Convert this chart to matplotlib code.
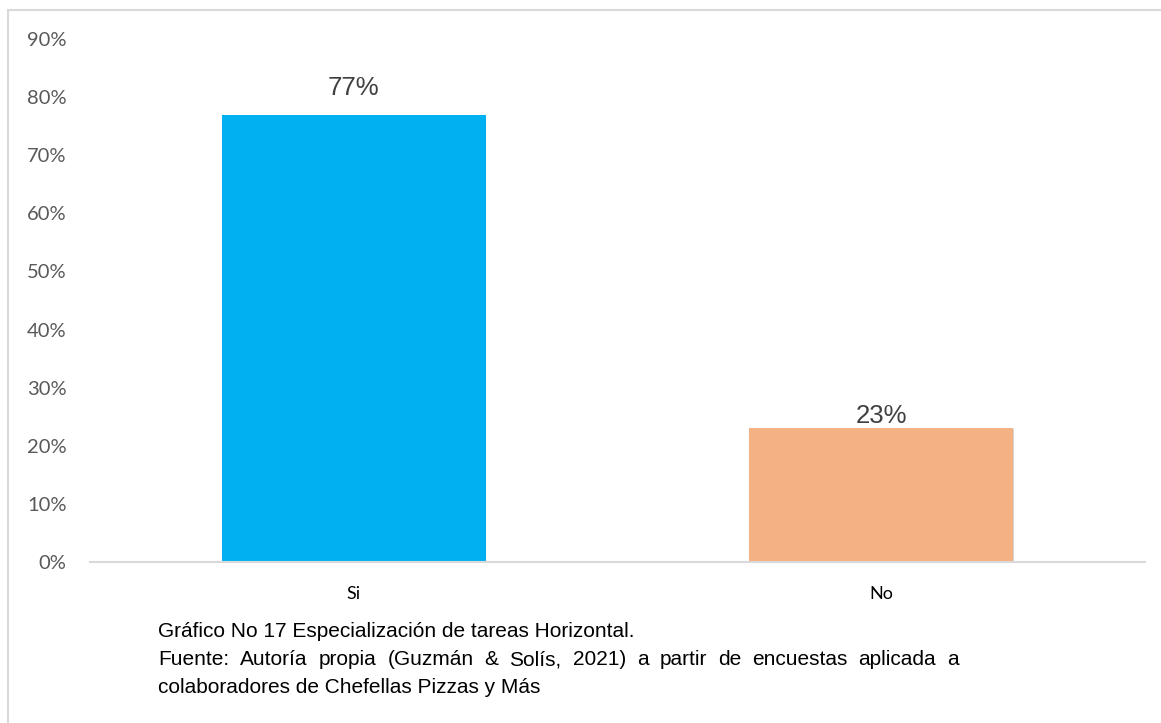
import matplotlib
matplotlib.use("Agg")
import matplotlib.pyplot as plt
import matplotlib.patheffects as pe
from matplotlib.patches import Rectangle
from matplotlib.ticker import MultipleLocator, FuncFormatter

# datos
categorias = ["Si", "No"]
porcentajes = [77, 23]
colores = ["#00B0F0", "#F4B183"]
etiquetas = ["77%", "23%"]
desfase_etiqueta = [20, 5]  # px sobre la barra (como en el original)

titulo = "Gráfico No 17 Especialización de tareas Horizontal."
fuente_l1 = "Fuente: Autoría propia (Guzmán & Solís, 2021) a partir de encuestas aplicada a"
fuente_l2 = "colaboradores de Chefellas Pizzas y Más"

W, H = 1161, 723
fig = plt.figure(figsize=(W / 100, H / 100), dpi=100)

# marco exterior del gráfico
fig.add_artist(Rectangle((8 / W, -0.01), 1.2, 1 - 10 / H + 0.01,
                         transform=fig.transFigure, fill=False,
                         edgecolor="#D9D9D9", linewidth=1.5))

ax = fig.add_axes([90 / W, 1 - 562 / H, 1055 / W, (562 - 39) / H])
x = range(len(categorias))
bars = ax.bar(x, porcentajes, width=0.5, color=colores, zorder=3)
for b in bars:
    b.set_path_effects([pe.SimplePatchShadow(offset=(0.6, -0.6), shadow_rgbFace="#7f7f7f",
                                             alpha=0.35), pe.Normal()])

ax.set_xlim(-0.5, 1.5)
ax.set_ylim(0, 90)
ax.yaxis.set_major_locator(MultipleLocator(10))
ax.yaxis.set_major_formatter(FuncFormatter(lambda v, p: f"{v:.0f}%"))
ax.set_xticks(list(x))
ax.set_xticklabels(categorias)

for s in ["top", "right", "left"]:
    ax.spines[s].set_visible(False)
ax.spines["bottom"].set_color("#D9D9D9")
ax.spines["bottom"].set_linewidth(1.5)
ax.spines["bottom"].set_zorder(4)
ax.tick_params(axis="both", length=0)
ax.tick_params(axis="y", labelsize=14.5, labelcolor="#595959", pad=17)
ax.tick_params(axis="x", labelsize=13, labelcolor="#000000", pad=17)
for lab in ax.get_yticklabels() + ax.get_xticklabels():
    lab.set_fontfamily("Lato")

for b, txt, d in zip(bars, etiquetas, desfase_etiqueta):
    ax.annotate(txt, (b.get_x() + b.get_width() / 2, b.get_height()),
                xytext=(0, d * 0.72), textcoords="offset points",
                ha="center", va="baseline", fontsize=18.5, color="#404040",
                family="Liberation Sans")

# pie de figura
cap = dict(fontsize=15, color="#000000", family="Liberation Sans", va="baseline")
fig.text(158 / W, 1 - 637 / H, titulo, **cap)
fig.text(158 / W, 1 - 693 / H, fuente_l2, **cap)

# linea justificada (espacios mas anchos, como en el documento)
fig.canvas.draw()
rend = fig.canvas.get_renderer()
palabras = fuente_l1.split(" ")
anchos = []
for w in palabras:
    t = fig.text(0, 0, w, **cap)
    anchos.append(t.get_window_extent(rend).width)
    t.remove()
hueco = 11
pos = 158
for w, a in zip(palabras, anchos):
    fig.text(pos / W, 1 - 665 / H, w, **cap)
    pos += a + hueco

fig.savefig("out.png", dpi=100)
